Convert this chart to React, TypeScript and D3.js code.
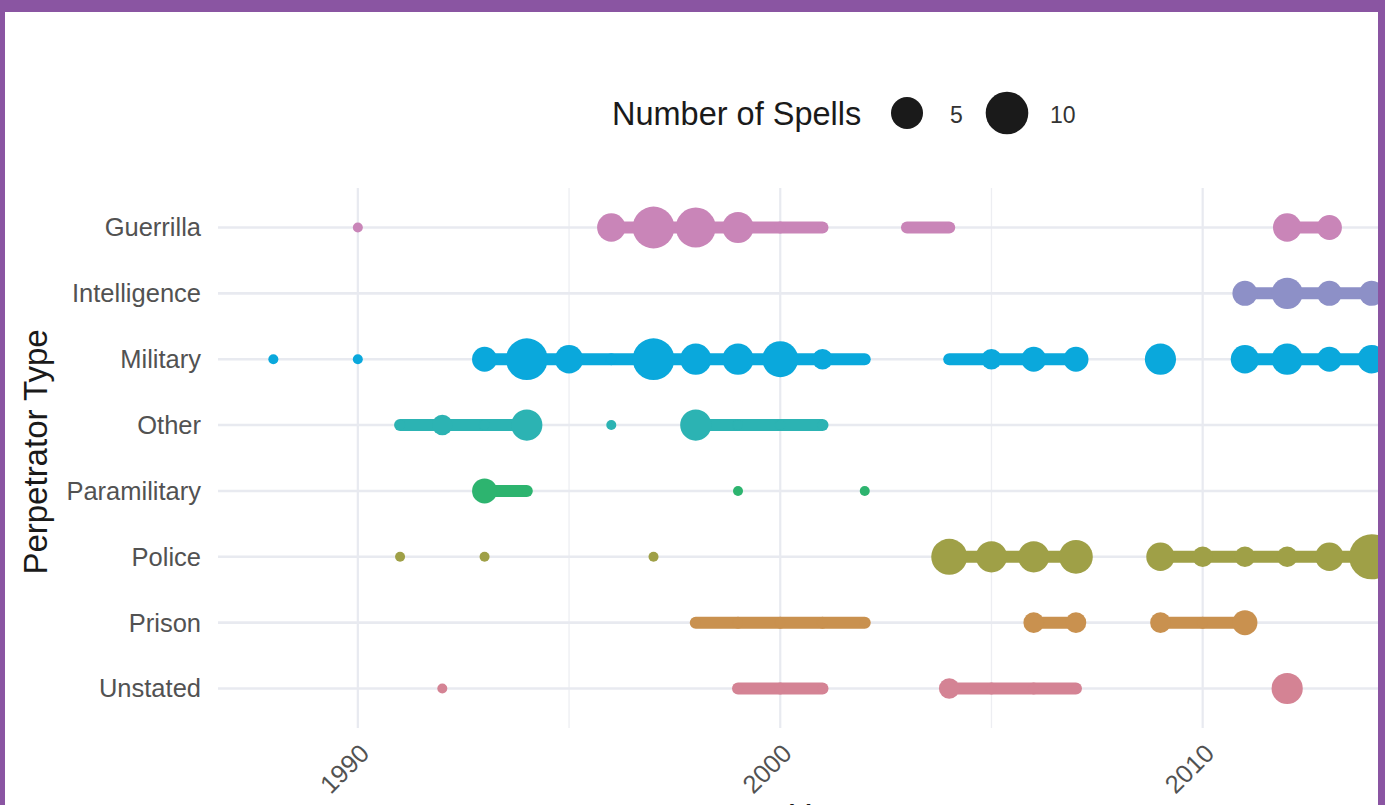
import React from 'react';
import * as d3 from 'd3';

// ---- Data ----
const categories = ['Guerrilla', 'Intelligence', 'Military', 'Other', 'Paramilitary', 'Police', 'Prison', 'Unstated'];
const categoryColors = ['#C985B8', '#8D90C7', '#0AA8DC', '#2CB3B3', '#2DB46F', '#9FA047', '#C9914F', '#D48394'];

const guerrillaYears = [1990, 1996, 1997, 1998, 1999, 2000, 2001, 2003, 2004, 2012, 2013];
const guerrillaSpells = [1, 4, 10, 9, 5, 1, 1, 1, 1, 4, 3];

const intelligenceYears = [2011, 2012, 2013, 2014];
const intelligenceSpells = [3, 5, 3, 3];

const militaryYears = [1988, 1990, 1993, 1994, 1995, 1996, 1997, 1998, 1999, 2000, 2001, 2002, 2004, 2005, 2006, 2007, 2009, 2011, 2012, 2013, 2014];
const militarySpells = [1, 1, 3, 10, 4, 1, 10, 5, 5, 7, 2, 1, 1, 2, 3, 3, 5, 4, 5, 3, 4];

const otherYears = [1991, 1992, 1993, 1994, 1996, 1998, 1999, 2000, 2001];
const otherSpells = [1, 2, 1, 5, 1, 5, 1, 1, 1];

const paramilitaryYears = [1993, 1994, 1999, 2002];
const paramilitarySpells = [3, 1, 1, 1];

const policeYears = [1991, 1993, 1997, 2004, 2005, 2006, 2007, 2009, 2010, 2011, 2012, 2013, 2014];
const policeSpells = [1, 1, 1, 7, 5, 5, 6, 4, 2, 2, 2, 4, 12];

const prisonYears = [1998, 1999, 2000, 2001, 2002, 2006, 2007, 2009, 2010, 2011];
const prisonSpells = [1, 1, 1, 1, 1, 2, 2, 2, 1, 3];

const unstatedYears = [1992, 1999, 2000, 2001, 2004, 2005, 2006, 2007, 2012];
const unstatedSpells = [1, 1, 1, 1, 2, 1, 1, 1, 5];

const seriesYears = [guerrillaYears, intelligenceYears, militaryYears, otherYears, paramilitaryYears, policeYears, prisonYears, unstatedYears];
const seriesSpells = [guerrillaSpells, intelligenceSpells, militarySpells, otherSpells, paramilitarySpells, policeSpells, prisonSpells, unstatedSpells];

const majorTicks = [1990, 2000, 2010];
const minorTicks = [1985, 1995, 2005, 2015];
const legendValues = [5, 10];

// ---- Layout ----
const W = 1385;
const H = 805;
const frame = { left: 5, top: 12, right: 1378 };
const panel = { left: 218, right: 1427, top: 188, bottom: 728 };
const font = 'Liberation Sans, Arial, Helvetica, sans-serif';

export default function App() {
  const x = d3.scaleLinear().domain([1986.69, 2015.31]).range([panel.left, panel.right]);
  const y = d3.scalePoint<string>().domain(categories).range([panel.top, panel.bottom]).padding(0.6);
  const r = d3.scaleSqrt().domain([0, 11]).range([5, 5 + 5.3 * Math.sqrt(11)]);
  const rad = (n: number) => r(n - 1);

  const series = categories.map((c, i) => ({
    cat: c,
    color: categoryColors[i],
    pts: seriesYears[i].map((yr, j) => ({ year: yr, n: seriesSpells[i][j] })),
  }));

  return (
    <svg width={W} height={H} style={{ position: 'absolute', left: 0, top: 0, display: 'block' }}>
      <defs>
        <clipPath id="frameClip">
          <rect x={frame.left} y={frame.top} width={frame.right - frame.left} height={H - frame.top} />
        </clipPath>
      </defs>
      <rect x={0} y={0} width={W} height={H} fill="#8A55A2" />
      <rect x={frame.left} y={frame.top} width={frame.right - frame.left} height={H - frame.top} fill="#FFFFFF" />
      <g clipPath="url(#frameClip)">
        {/* grid */}
        {minorTicks.map((t) => (
          <line key={'mi' + t} x1={x(t)} x2={x(t)} y1={panel.top} y2={panel.bottom} stroke="#EDEEF2" strokeWidth={1.3}
            style={{ display: x(t) < panel.left ? 'none' : undefined }} />
        ))}
        {majorTicks.map((t) => (
          <line key={'ma' + t} x1={x(t)} x2={x(t)} y1={panel.top} y2={panel.bottom} stroke="#E8EAF0" strokeWidth={2.2} />
        ))}
        {categories.map((c) => (
          <line key={'h' + c} x1={panel.left} x2={panel.right} y1={y(c)} y2={y(c)} stroke="#E8EAF0" strokeWidth={2.6} />
        ))}

        {/* lines between consecutive years */}
        {series.map((s) =>
          s.pts.slice(1).map((p, j) => {
            const prev = s.pts[j];
            if (p.year - prev.year !== 1) return null;
            return (
              <line key={s.cat + 'l' + p.year} x1={x(prev.year)} x2={x(p.year)} y1={y(s.cat)} y2={y(s.cat)}
                stroke={s.color} strokeWidth={12} strokeLinecap="round" />
            );
          })
        )}
        {/* points */}
        {series.map((s) =>
          s.pts.map((p) => (
            <circle key={s.cat + 'p' + p.year} cx={x(p.year)} cy={y(s.cat)} r={rad(p.n)} fill={s.color} />
          ))
        )}

        {/* y tick labels */}
        {categories.map((c) => (
          <text key={'yl' + c} x={201} y={y(c)} dy="0.35em" textAnchor="end" fontFamily={font} fontSize={25.5} fill="#525252">
            {c}
          </text>
        ))}
        {/* x tick labels */}
        {majorTicks.map((t) => (
          <text key={'xl' + t} transform={`translate(${x(t) + 13},${755}) rotate(-45)`} textAnchor="end"
            fontFamily={font} fontSize={25.5} fill="#525252">
            {t}
          </text>
        ))}
        {/* axis titles */}
        <text transform={`translate(46.5,${(panel.top + panel.bottom) / 2 - 6}) rotate(-90)`} textAnchor="middle"
          fontFamily={font} fontSize={33} fill="#1A1A1A">
          Perpetrator Type
        </text>
        <text x={(panel.left + panel.right) / 2} y={827} textAnchor="middle" fontFamily={font} fontSize={33} fill="#1A1A1A">
          Year
        </text>

        {/* legend */}
        <text x={612} y={125} fontFamily={font} fontSize={32.5} fill="#1A1A1A">Number of Spells</text>
        {legendValues.map((v, i) => {
          const cx = i === 0 ? 907 : 1007;
          return (
            <g key={'lg' + v}>
              <circle cx={cx} cy={113} r={rad(v) + 0.4} fill="#1A1A1A" />
              <text x={cx + 43} y={123} fontFamily={font} fontSize={23} fill="#333333">{v}</text>
            </g>
          );
        })}
      </g>
    </svg>
  );
}
